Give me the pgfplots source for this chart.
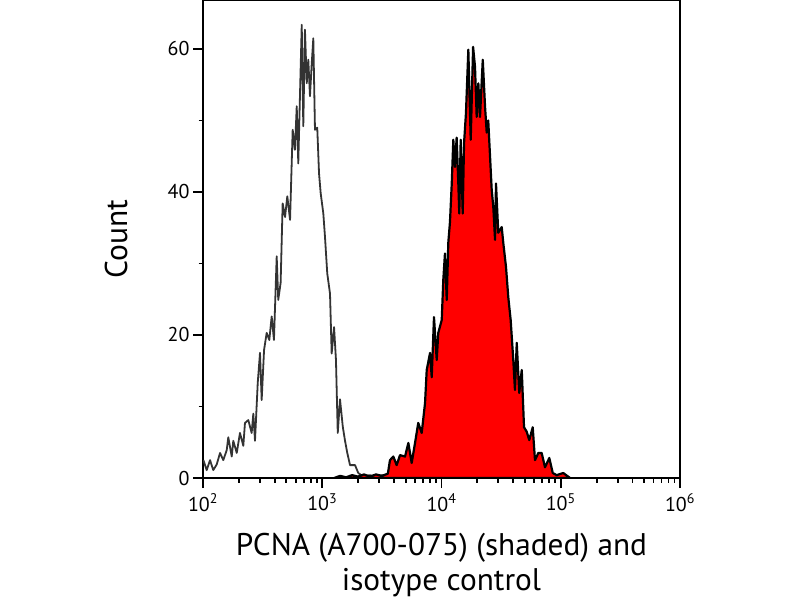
\documentclass[border=0pt]{standalone}
\usepackage{fontspec}
\setmainfont{PT Sans}
\usepackage{pgfplots}
\pgfplotsset{compat=1.18}
\definecolor{isogray}{HTML}{333333}
\begin{document}
\begin{tikzpicture}
\path[use as bounding box] (0,0) rectangle (800pt,600pt);
\begin{axis}[
  at={(203pt,122pt)}, anchor=south west,
  scale only axis, width=477pt, height=478pt,
  xmin=2, xmax=6, ymin=0, ymax=66.85,
  axis line style={line width=2pt, black},
  xtick={2,3,4,5,6},
  xticklabels={{10\textsuperscript{2}},{10\textsuperscript{3}},{10\textsuperscript{4}},{10\textsuperscript{5}},{10\textsuperscript{6}}},
  minor xtick={2.301,2.477,2.602,2.699,2.778,2.845,2.903,2.954,
               3.301,3.477,3.602,3.699,3.778,3.845,3.903,3.954,
               4.301,4.477,4.602,4.699,4.778,4.845,4.903,4.954,
               5.301,5.477,5.602,5.699,5.778,5.845,5.903,5.954},
  ytick={0,20,40,60}, minor ytick={10,30,50},
  xtick pos=lower, ytick pos=left, tick align=outside,
  major tick length=10pt, minor tick length=4.5pt,
  every tick/.style={line width=1.8pt, black},
  /pgf/number format/assume math mode=true,
  ticklabel style={font=\fontsize{20}{24}\selectfont},
  xticklabel style={yshift=-2pt},
  xlabel={PCNA (A700-075) (shaded) and\\isotype control},
  xlabel style={at={(axis description cs:0.5,-0.116)}, anchor=north, align=center, inner sep=0pt, font=\fontsize{31.3}{34.5}\selectfont},
  ylabel={Count},
  ylabel style={at={(axis description cs:-0.182,0.5)}, anchor=center, rotate=0, font=\fontsize{31.5}{36}\selectfont},
]
\addplot[isogray, line width=1.8pt, line join=round] coordinates {
(2.003,2.5)(2.031,1.1)(2.059,2.5)(2.086,1.1)(2.115,1.9)(2.143,3.5)(2.170,2.5)(2.199,3.9)(2.212,5.7)(2.241,3.0)(2.254,5.2)(2.283,3.5)(2.310,6.3)(2.338,4.5)(2.352,7.7)(2.380,8.1)(2.408,6.3)(2.422,9.0)(2.436,5.2)(2.459,13.3)(2.478,17.5)(2.492,10.9)(2.512,17.9)(2.534,20.3)(2.556,19.3)(2.576,22.6)(2.595,19.3)(2.618,31.0)(2.631,24.9)(2.651,27.3)(2.668,38.4)(2.688,36.5)(2.707,39.4)(2.730,36.1)(2.752,48.7)(2.771,45.9)(2.786,52.0)(2.799,44.0)(2.813,53.4)(2.828,63.4)(2.841,49.2)(2.855,62.7)(2.870,55.2)(2.883,58.5)(2.897,53.4)(2.912,58.0)(2.925,61.5)(2.939,48.7)(2.958,49.0)(2.973,42.6)(2.987,39.8)(3.009,37.0)(3.023,33.7)(3.042,28.6)(3.065,25.8)(3.079,17.4)(3.099,21.1)(3.115,16.5)(3.130,6.3)(3.149,11.0)(3.172,7.2)(3.191,5.2)(3.210,3.5)(3.233,1.8)(3.275,1.8)(3.302,0.7)(3.344,0.2)(3.40,0.4)(3.45,0.1)(3.50,0.4)(3.55,0.1)(3.60,0.3)(3.70,0)(3.80,0.2)(4.00,0)
};
\addplot[draw=black, line width=2.2pt, line join=round, fill=red] coordinates {
(3.10,0)(3.15,0.3)(3.20,0.1)(3.25,0.4)(3.30,0.2)(3.35,0.5)(3.40,0.2)(3.45,0.5)(3.50,0.3)(3.55,0.6)(3.568,2.5)(3.596,3.0)(3.624,1.8)(3.652,3.2)(3.694,3.0)(3.722,4.9)(3.750,2.1)(3.778,4.9)(3.805,7.7)(3.834,6.3)(3.862,10.5)(3.876,15.1)(3.904,17.5)(3.918,14.1)(3.937,22.5)(3.960,16.5)(3.973,20.3)(4.002,22.1)(4.015,27.7)(4.029,31.4)(4.044,24.9)(4.057,32.9)(4.071,35.8)(4.086,41.2)(4.099,47.3)(4.113,43.5)(4.127,47.6)(4.141,41.2)(4.149,37.0)(4.161,47.3)(4.178,37.0)(4.189,46.8)(4.205,51.0)(4.225,59.9)(4.245,47.3)(4.265,60.3)(4.281,57.5)(4.295,50.5)(4.309,55.2)(4.323,50.5)(4.346,58.5)(4.365,52.0)(4.379,48.3)(4.392,50.0)(4.407,45.0)(4.421,40.3)(4.434,38.0)(4.449,33.3)(4.457,41.2)(4.476,34.3)(4.505,35.1)(4.518,32.9)(4.541,29.5)(4.560,25.3)(4.580,22.1)(4.602,16.5)(4.616,12.3)(4.631,18.9)(4.652,11.9)(4.673,15.1)(4.692,7.1)(4.714,6.5)(4.736,5.3)(4.765,7.1)(4.784,2.5)(4.812,3.5)(4.840,3.5)(4.868,1.5)(4.904,2.8)(4.933,0.7)(4.966,0.4)(5.021,0.7)(5.078,0)
} \closedcycle;
\end{axis}
\end{tikzpicture}
\end{document}
